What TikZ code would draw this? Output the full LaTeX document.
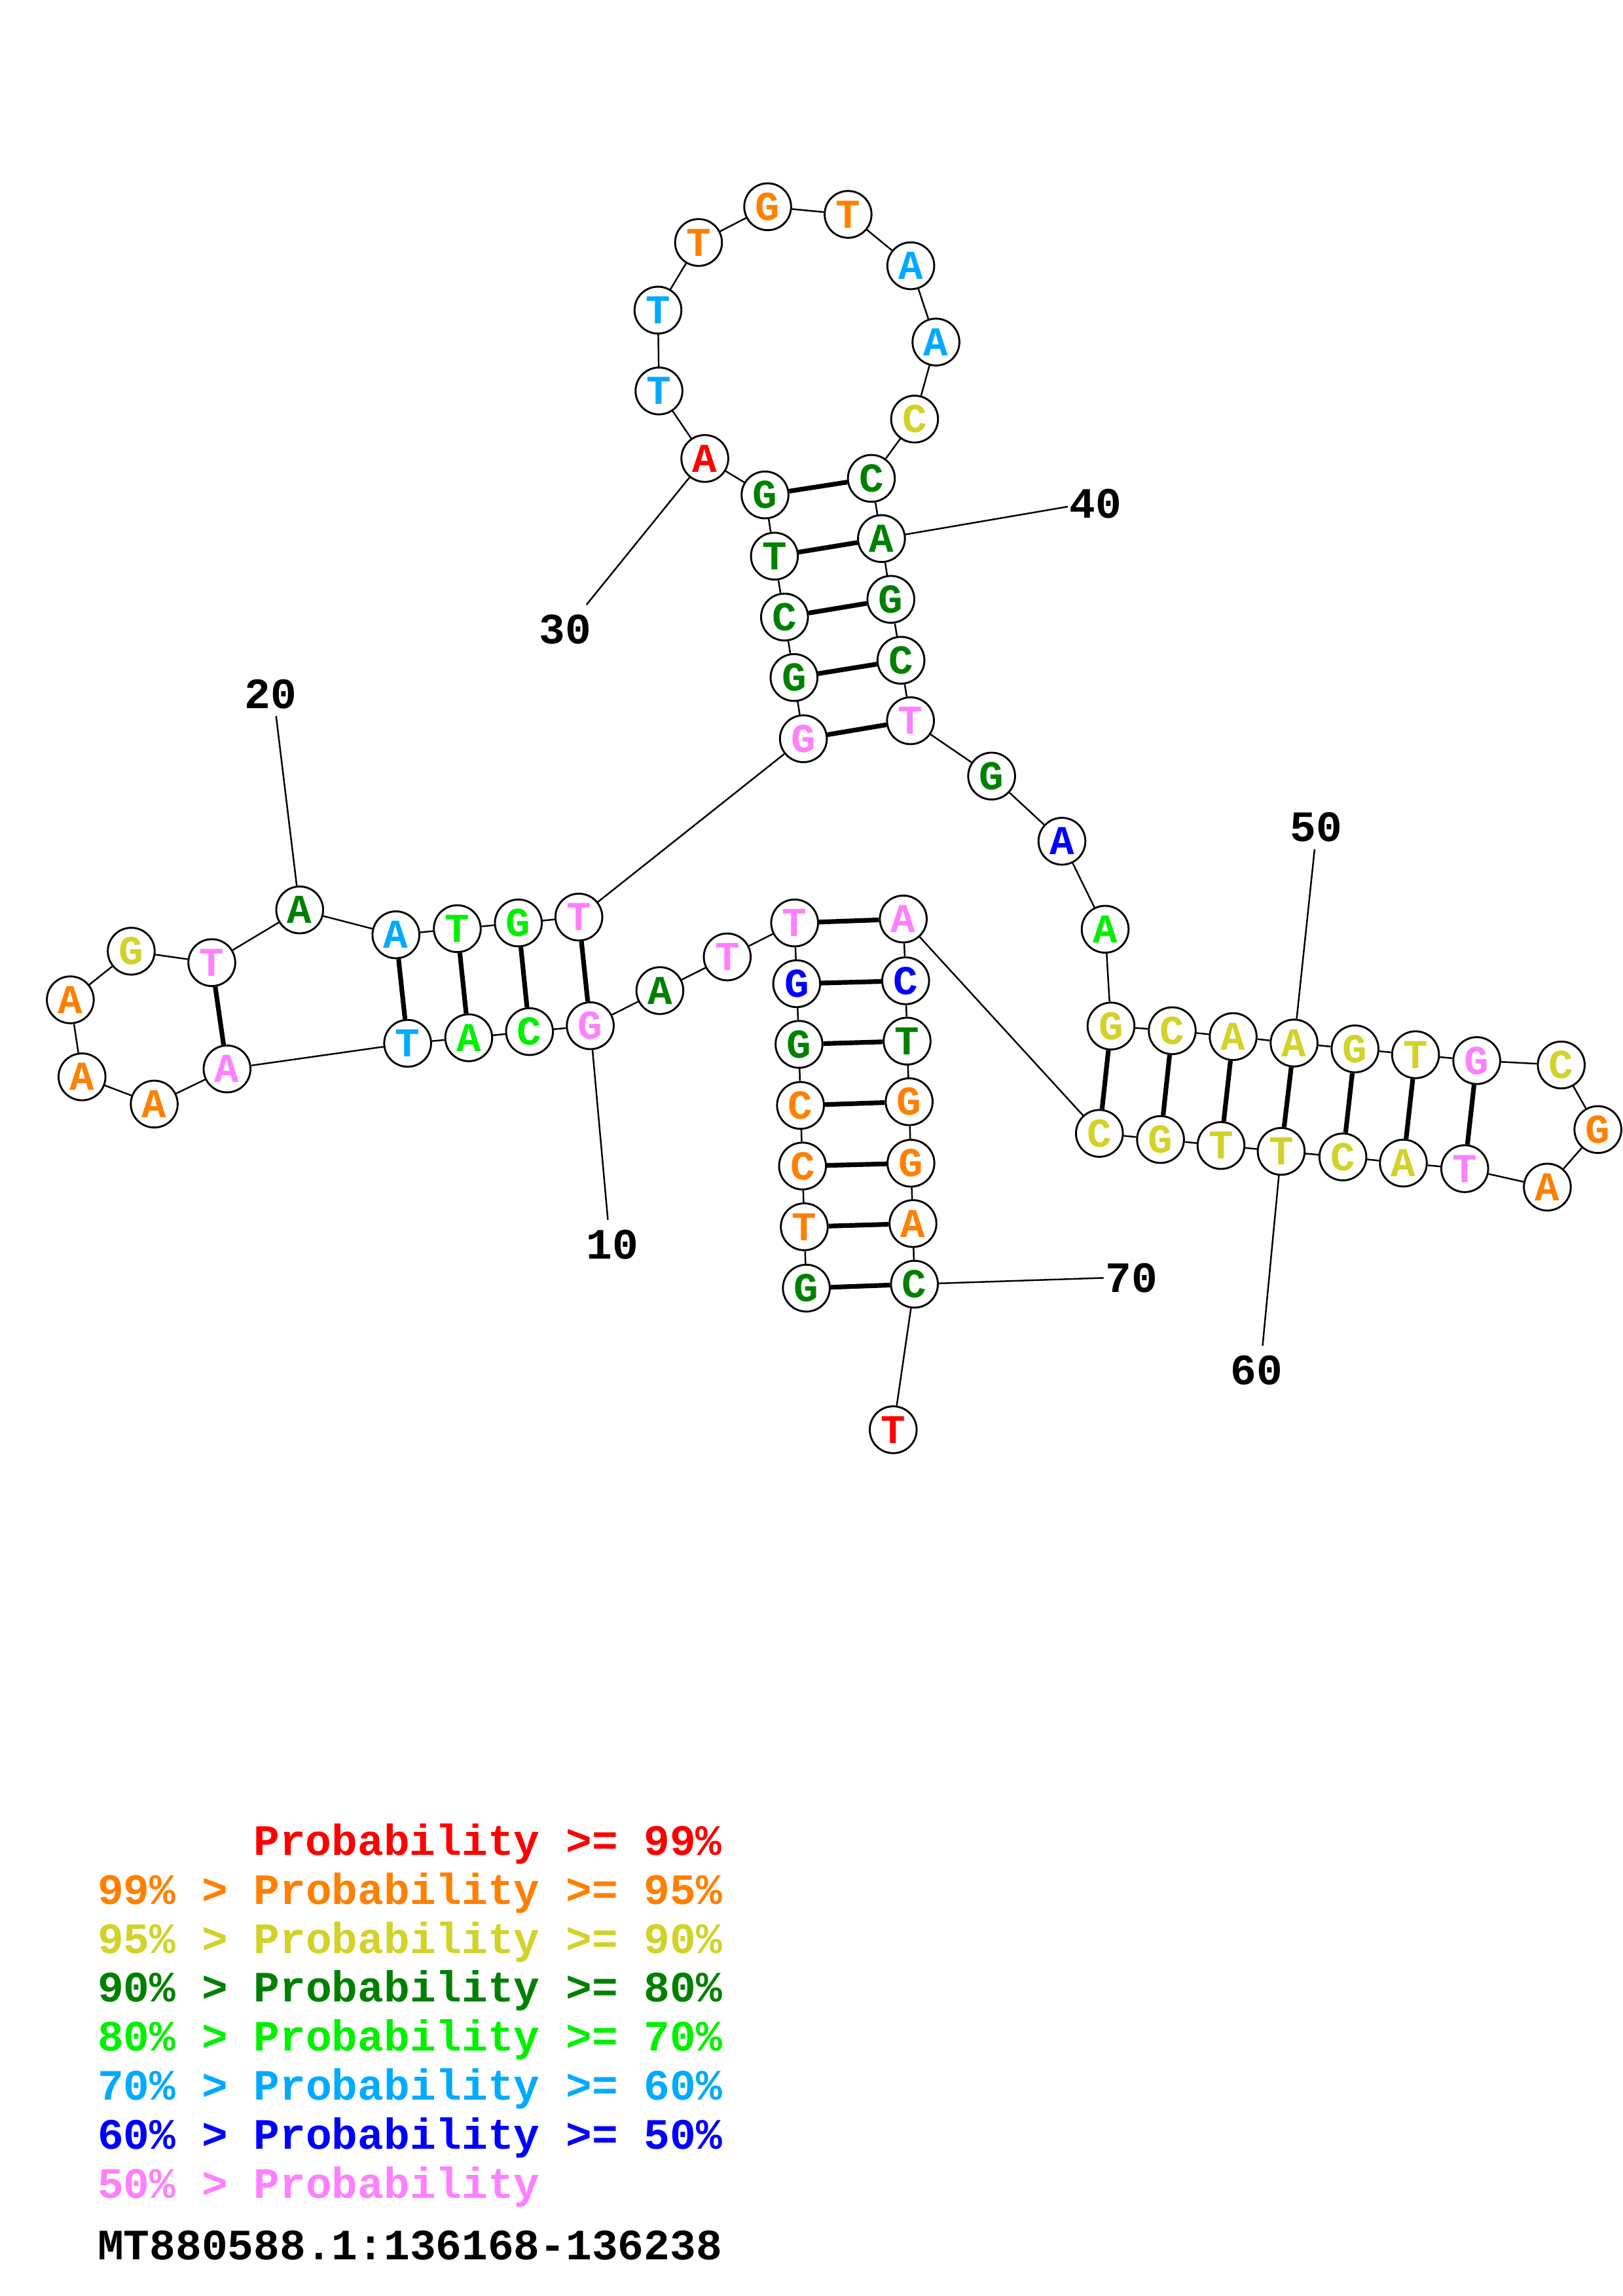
\documentclass[tikz,border=0pt]{standalone}
\usepackage{fontspec}
\newfontfamily\cour{Liberation Mono}
\definecolor{cred}{RGB}{255,0,0}
\definecolor{corg}{RGB}{255,128,0}
\definecolor{cyel}{RGB}{210,210,40}
\definecolor{cdg}{RGB}{0,128,0}
\definecolor{clg}{RGB}{0,240,0}
\definecolor{clb}{RGB}{0,170,255}
\definecolor{cbl}{RGB}{0,0,255}
\definecolor{cpk}{RGB}{255,128,255}
\tikzset{
  nuc/.style={circle,draw=black,line width=1.3pt,fill=white,minimum size=32pt,inner sep=0pt,
    font=\cour\bfseries\fontsize{28}{28}\selectfont},
  bb/.style={line width=1.1pt},
  bp/.style={line width=3.2pt},
  lab/.style={font=\cour\bfseries\fontsize{29.6}{30}\selectfont,inner sep=0pt},
  tick/.style={line width=1.1pt}
}
\begin{document}
\begin{tikzpicture}[x=1pt,y=-1pt]
\useasboundingbox (0,0) rectangle (1108,1568);
\foreach \k/\x/\y/\b/\c in {
1/550.5/879.7/G/cdg, 2/549.1/837.8/T/corg, 3/547.9/796.3/C/corg, 4/546.5/754.9/C/corg,
5/545.5/713.2/G/cdg, 6/543.9/671.8/G/cbl, 7/542.5/630.3/T/cpk, 8/496.5/653.5/T/cpk,
9/450.5/676.5/A/cdg, 10/403/700.5/G/cpk, 11/361.5/704.5/C/clg, 12/320/708.7/A/clg,
13/278.3/712.5/T/clb, 14/155/730/A/cpk, 15/105.3/754/A/corg, 16/56/735.4/A/corg,
17/48/682.8/A/corg, 18/89.6/649.6/G/cyel, 19/144.6/657.4/T/cpk, 20/204.6/621.4/A/cdg,
21/270.3/638.4/A/clb, 22/312.2/634.2/T/clg, 23/353.9/630.3/G/clg, 24/395.2/626.3/T/cpk,
25/548.5/504.5/G/cpk, 26/542.1/462.7/G/cdg, 27/535.6/421.4/C/cdg, 28/528.7/379.8/T/cdg,
29/522.3/338.0/G/cdg, 30/481.2/313.1/A/cred, 31/449.9/267.0/T/clb, 32/449.2/211.8/T/clb,
33/476.9/165.6/T/corg, 34/524.1/141.2/G/corg, 35/579.0/146.4/T/corg, 36/621.8/181.5/A/clb,
37/639.0/233.6/A/clb, 38/624.4/286.2/C/cyel, 39/594.9/326.7/C/cdg, 40/601.8/367.8/A/cdg,
41/608.2/409.3/G/cdg, 42/615.1/450.9/C/cdg, 43/621.6/492.2/T/cpk, 44/677/530/G/cdg,
45/725/574.5/A/cbl, 46/754.5/634.6/A/clg, 47/758.5/700.7/G/cyel, 48/800.3/703.9/C/cyel,
49/841.9/707.9/A/cyel, 50/883.5/712.3/A/cyel, 51/925.1/716.3/G/cyel, 52/966.4/720.3/T/cyel,
53/1008.2/724.3/G/cpk, 54/1065.9/727.3/C/cyel, 55/1090.9/771.4/G/corg, 56/1056.4/810.7/A/corg,
57/1000/798.1/T/cpk, 58/958.1/794.3/A/cyel, 59/916.8/790.1/C/cyel, 60/874.7/786.3/T/cyel,
61/833.6/782.3/T/cyel, 62/792.3/778.2/G/cyel, 63/750.6/774/C/cyel, 64/616.7/627.6/A/cpk,
65/618.3/669.8/C/cbl, 66/619.3/711.0/T/cdg, 67/620.7/752.4/G/corg, 68/621.9/794.4/G/corg,
69/623.3/835.6/A/corg, 70/624.3/877.0/C/cdg, 71/609.8/976.4/T/cred}
  \node[nuc,text=\c] (n\k) at (\x,\y) {\b};
% backbone
\foreach \i in {1,...,70}{
  \pgfmathtruncatemacro\j{\i+1}
  \draw[bb] (n\i) -- (n\j);
}
% base pairs
\foreach \a/\b in {1/70,2/69,3/68,4/67,5/66,6/65,7/64,10/24,11/23,12/22,13/21,14/19,
  25/43,26/42,27/41,28/40,29/39,47/63,48/62,49/61,50/60,51/59,52/58,53/57}
  \draw[bp] (n\a) -- (n\b);
% numbering
\foreach \k/\tx/\ty/\ex/\ey in {10/418/850/415/833, 20/184.8/474/188.5/489, 30/386/430/400.4/413,
  40/748/344/729/346, 50/898.5/565/897.5/580, 60/858/936/862/919, 70/772.6/873/753.4/872.7}{
  \node[lab] (t\k) at (\tx,\ty) {\k};
  \coordinate (e\k) at (\ex,\ey);
  \draw[tick] (e\k) -- (n\k);
}
% legend
\node[lab,anchor=base west,text=cred] (g1) at (173,1267) {Probability >= 99\%};
\node[lab,anchor=base west,text=corg] (g2) at (66.5,1300.5) {99\% > Probability >= 95\%};
\node[lab,anchor=base west,text=cyel] (g3) at (66.5,1334) {95\% > Probability >= 90\%};
\node[lab,anchor=base west,text=cdg] (g4) at (66.5,1367) {90\% > Probability >= 80\%};
\node[lab,anchor=base west,text=clg] (g5) at (66.5,1400.5) {80\% > Probability >= 70\%};
\node[lab,anchor=base west,text=clb] (g6) at (66.5,1434) {70\% > Probability >= 60\%};
\node[lab,anchor=base west,text=cbl] (g7) at (66.5,1467.5) {60\% > Probability >= 50\%};
\node[lab,anchor=base west,text=cpk] (g8) at (66.5,1501) {50\% > Probability};
\node[lab,anchor=base west,text=black] (g9) at (66.5,1543) {MT880588.1:136168-136238};
\end{tikzpicture}
\end{document}
